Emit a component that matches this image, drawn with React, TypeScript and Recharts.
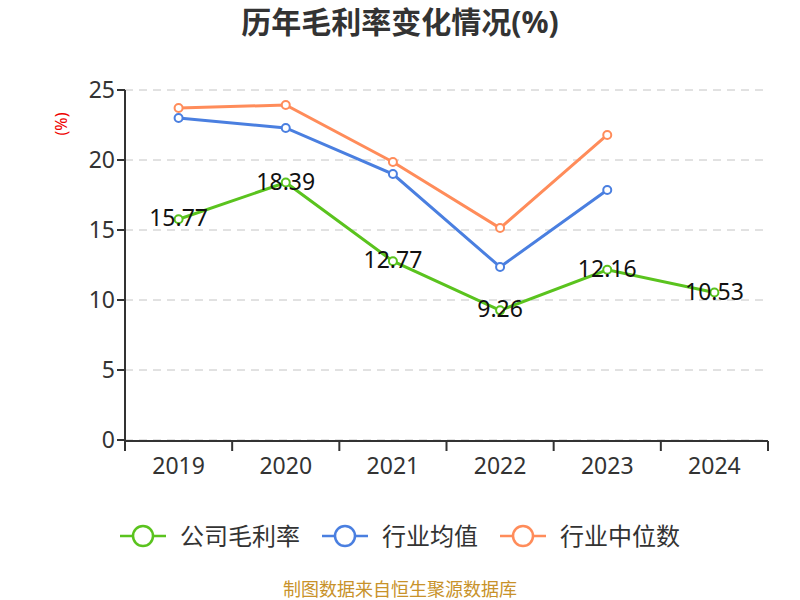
import React from 'react';
import { LineChart, Line, XAxis, YAxis, CartesianGrid, LabelList } from 'recharts';

const years = ['2019', '2020', '2021', '2022', '2023', '2024'];
const companyMargin = [15.77, 18.39, 12.77, 9.26, 12.16, 10.53];
const industryAvg = [23.0, 22.29, 19.0, 12.36, 17.86, null];
const industryMedian = [23.71, 23.93, 19.86, 15.14, 21.79, null];
const yTicks = [0, 5, 10, 15, 20, 25];
const edgeTicks = [0, 1, 2, 3, 4, 5, 6];

const data = years.map((year, i) => ({
  x: i + 0.5,
  year,
  company: companyMargin[i],
  avg: industryAvg[i],
  median: industryMedian[i],
}));

const series = [
  { key: 'company', name: '公司毛利率', color: '#5ac31e' },
  { key: 'avg', name: '行业均值', color: '#4a7fe0' },
  { key: 'median', name: '行业中位数', color: '#ff8c5a' },
];

const font = "'Noto Sans', 'Noto Sans CJK SC', sans-serif";

const LegendBox = () => (
  <div
    style={{
      position: 'absolute', top: 521, left: 0, width: 800,
      display: 'flex', justifyContent: 'center', gap: 22, fontFamily: font,
    }}
  >
    {series.map((s) => (
      <div key={s.key} style={{ display: 'flex', alignItems: 'center' }}>
        <svg width={46} height={30}>
          <line x1={0} y1={15} x2={46} y2={15} stroke={s.color} strokeWidth={2.5} />
          <circle cx={23} cy={15} r={10} fill="#fff" stroke={s.color} strokeWidth={2.5} />
        </svg>
        <span style={{ fontSize: 24, lineHeight: '30px', color: '#333', marginLeft: 14 }}>{s.name}</span>
      </div>
    ))}
  </div>
);

export default function App() {
  return (
    <div style={{ position: 'absolute', left: 0, top: 0, width: 800, height: 600, background: '#fff', fontFamily: font }}>
      <div style={{ position: 'absolute', top: 3, width: 800, textAlign: 'center', fontSize: 30, lineHeight: '38px', fontWeight: 'bold', color: '#333' }}>
        历年毛利率变化情况(%)
      </div>
      <div
        style={{
          position: 'absolute', left: 50, top: 114, color: '#e00', fontSize: 16, lineHeight: '20px',
          transform: 'rotate(-90deg)', transformOrigin: 'center',
        }}
      >
        (%)
      </div>
      <LineChart width={800} height={600} data={data} margin={{ top: 90, right: 32, left: 0, bottom: 0 }}>
        <CartesianGrid vertical={false} stroke="#c4c4c4" strokeDasharray="8 6" />
        <XAxis
          dataKey="x"
          type="number"
          domain={[0, 6]}
          ticks={data.map((d) => d.x)}
          tickFormatter={(v: number) => years[Math.floor(v)]}
          axisLine={false}
          tickLine={false}
          tick={{ fill: '#333', fontSize: 23 }}
          tickMargin={12}
          height={1}
        />
        <XAxis
          xAxisId="edge"
          dataKey="x"
          type="number"
          domain={[0, 6]}
          allowDataOverflow
          ticks={edgeTicks}
          interval={0}
          tickFormatter={() => ''}
          stroke="#333"
          strokeWidth={2}
          tickSize={10}
          height={159}
        />
        <YAxis
          domain={[0, 25]}
          ticks={yTicks}
          width={125}
          stroke="#333"
          strokeWidth={2}
          tick={{ fill: '#333', fontSize: 23 }}
          tickSize={8}
        />
        {series.map((s) => (
          <Line
            key={s.key}
            dataKey={s.key}
            name={s.name}
            stroke={s.color}
            strokeWidth={3}
            dot={{ r: 4, fill: '#fff', stroke: s.color, strokeWidth: 2 }}
            isAnimationActive={false}
          >
            {s.key === 'company' && (
              <LabelList
                dataKey="company"
                content={(p: any) => (
                  <text x={p.x} y={p.y} dy={7} textAnchor="middle" fontSize={23} fill="#111">
                    {p.value}
                  </text>
                )}
              />
            )}
          </Line>
        ))}
      </LineChart>
      <LegendBox />
      <div style={{ position: 'absolute', top: 579, width: 800, textAlign: 'center', fontSize: 18, lineHeight: '21px', color: '#c8922a' }}>
        制图数据来自恒生聚源数据库
      </div>
    </div>
  );
}
